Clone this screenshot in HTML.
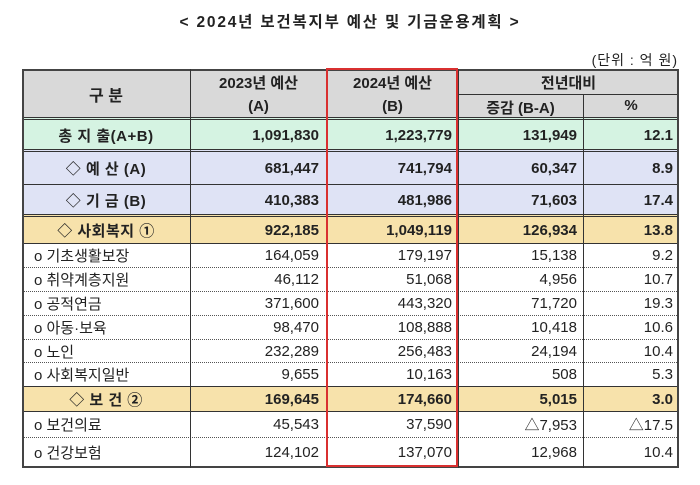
<!DOCTYPE html>
<html><head><meta charset="utf-8"><style>
body{margin:0;width:700px;height:485px;background:#fff;position:relative;overflow:hidden;font-family:"Liberation Sans","Noto Sans CJK KR",sans-serif;color:#222}
.a{position:absolute}
.row{position:absolute;left:22px;width:657px;border-top:1px solid #333;box-sizing:border-box}
.row.dot{border-top:1px dotted #555}
.c{position:absolute;top:0;bottom:0;display:flex;align-items:center;font-size:15px;box-sizing:border-box}
.c1{left:0;width:168px;padding-left:12px}
.c2{left:168px;width:135px;justify-content:flex-end;padding-right:6px}
.c3{left:305px;width:131px;justify-content:flex-end;padding-right:6px}
.c4{left:436px;width:125px;justify-content:flex-end;padding-right:6px}
.c5{left:561px;width:96px;justify-content:flex-end;padding-right:6px}
.ctr{justify-content:center;padding-left:0;letter-spacing:0.5px}
.b{font-weight:bold}
.v{position:absolute;width:1px;background:#333}
</style></head><body>
<div class="a b" style="left:0;width:700px;top:10px;text-align:center;font-size:15.5px;letter-spacing:1.8px">&lt; 2024년 보건복지부 예산 및 기금운용계획 &gt;</div>
<div class="a" style="right:22px;top:50px;font-size:14px;letter-spacing:1px">(단위 : 억 원)</div>

<!-- header -->
<div class="a" style="left:22px;top:69px;width:657px;height:49px;background:#d9d9d9;border-top:2px solid #444;box-sizing:border-box"></div>
<div class="a b" style="left:22px;top:69px;width:168px;height:49px;display:flex;align-items:center;justify-content:center;font-size:16px">구 분</div>
<div class="a b" style="left:190px;top:72px;width:137px;text-align:center;font-size:15px;line-height:23px">2023년 예산<br>(A)</div>
<div class="a b" style="left:327px;top:72px;width:131px;text-align:center;font-size:15px;line-height:23px">2024년 예산<br>(B)</div>
<div class="a b" style="left:458px;top:72px;width:221px;text-align:center;font-size:15px">전년대비</div>
<div class="a" style="left:458px;top:94px;width:221px;height:1px;background:#333"></div>
<div class="a b" style="left:458px;top:97px;width:125px;text-align:center;font-size:15px">증감 (B-A)</div>
<div class="a b" style="left:583px;top:97px;width:96px;text-align:center;font-size:15px">%</div>

<div class="row b" style="top:117px;height:33px;background:#d5f3e2;border-top:3px double #333"><div class="c c1 ctr">총 지 출(A+B)</div><div class="c c2">1,091,830</div><div class="c c3">1,223,779</div><div class="c c4">131,949</div><div class="c c5">12.1</div></div>
<div class="row b" style="top:149px;height:35px;background:#dfe3f5;border-top:3px double #333"><div class="c c1 ctr">◇ 예 산 (A)</div><div class="c c2">681,447</div><div class="c c3">741,794</div><div class="c c4">60,347</div><div class="c c5">8.9</div></div>
<div class="row b" style="top:184px;height:31px;background:#dfe3f5"><div class="c c1 ctr">◇ 기 금 (B)</div><div class="c c2">410,383</div><div class="c c3">481,986</div><div class="c c4">71,603</div><div class="c c5">17.4</div></div>
<div class="row b" style="top:214px;height:29px;background:#f7e2ab;border-top:3px double #333"><div class="c c1 ctr">◇ 사회복지 ①</div><div class="c c2">922,185</div><div class="c c3">1,049,119</div><div class="c c4">126,934</div><div class="c c5">13.8</div></div>
<div class="row" style="top:243px;height:24px"><div class="c c1">o 기초생활보장</div><div class="c c2">164,059</div><div class="c c3">179,197</div><div class="c c4">15,138</div><div class="c c5">9.2</div></div>
<div class="row dot" style="top:267px;height:24px"><div class="c c1">o 취약계층지원</div><div class="c c2">46,112</div><div class="c c3">51,068</div><div class="c c4">4,956</div><div class="c c5">10.7</div></div>
<div class="row dot" style="top:291px;height:24px"><div class="c c1">o 공적연금</div><div class="c c2">371,600</div><div class="c c3">443,320</div><div class="c c4">71,720</div><div class="c c5">19.3</div></div>
<div class="row dot" style="top:315px;height:24px"><div class="c c1">o 아동·보육</div><div class="c c2">98,470</div><div class="c c3">108,888</div><div class="c c4">10,418</div><div class="c c5">10.6</div></div>
<div class="row dot" style="top:339px;height:23px"><div class="c c1">o 노인</div><div class="c c2">232,289</div><div class="c c3">256,483</div><div class="c c4">24,194</div><div class="c c5">10.4</div></div>
<div class="row dot" style="top:362px;height:24px"><div class="c c1">o 사회복지일반</div><div class="c c2">9,655</div><div class="c c3">10,163</div><div class="c c4">508</div><div class="c c5">5.3</div></div>
<div class="row b" style="top:386px;height:25px;background:#f7e2ab"><div class="c c1 ctr">◇ 보 건 ②</div><div class="c c2">169,645</div><div class="c c3">174,660</div><div class="c c4">5,015</div><div class="c c5">3.0</div></div>
<div class="row" style="top:411px;height:26px"><div class="c c1">o 보건의료</div><div class="c c2">45,543</div><div class="c c3">37,590</div><div class="c c4">△7,953</div><div class="c c5">△17.5</div></div>
<div class="row dot" style="top:437px;height:31px;border-bottom:2px solid #444"><div class="c c1">o 건강보험</div><div class="c c2">124,102</div><div class="c c3">137,070</div><div class="c c4">12,968</div><div class="c c5">10.4</div></div>

<!-- verticals -->
<div class="v" style="left:22px;top:69px;height:399px;width:2px;background:#444"></div>
<div class="v" style="left:190px;top:69px;height:399px"></div>
<div class="v" style="left:458px;top:69px;height:399px"></div>
<div class="v" style="left:583px;top:94px;height:374px"></div>
<div class="v" style="left:677px;top:69px;height:399px;width:2px;background:#444"></div>
<!-- red box -->
<div class="a" style="left:326px;top:68px;width:132px;height:399px;border:2px solid #d93030;box-sizing:border-box"></div>
</body></html>
